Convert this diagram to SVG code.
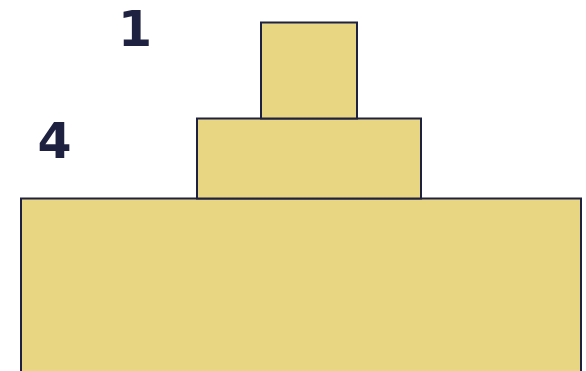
<svg xmlns="http://www.w3.org/2000/svg" width="586" height="371" viewBox="0 0 586 371">
<style>
.blk{fill:#e9d683;stroke:#1e2140;stroke-width:2}
.lbl{font-family:"DejaVu Sans",Verdana,sans-serif;font-weight:bold;font-size:49px;fill:#1e2140;text-anchor:middle}
</style>
<rect width="586" height="371" fill="#ffffff"/>
<g id="base"><rect class="blk" x="21" y="198.5" width="560" height="200"/></g>
<g id="middle"><rect class="blk" x="197" y="118.5" width="224" height="80"/></g>
<g id="top"><rect class="blk" x="261" y="22.5" width="96" height="96"/></g>
<g id="label-1"><text class="lbl" x="135" y="46">1</text></g>
<g id="label-4"><text class="lbl" x="54.5" y="158">4</text></g>
<g id="connectors"></g>
</svg>
